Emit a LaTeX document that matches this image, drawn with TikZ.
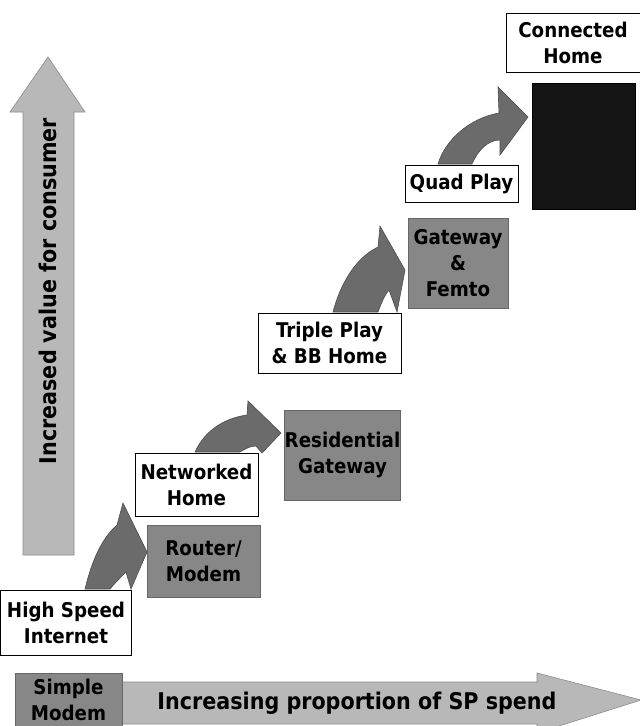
\documentclass[tikz,border=0pt]{standalone}
\usepackage{fontspec}
\setmainfont{DejaVu Sans Condensed}
\begin{document}
\begin{tikzpicture}[x=1pt,y=-1pt,
  lbl/.style={font=\bfseries\fontsize{20.3}{26}\selectfont, align=center, inner sep=0pt},
  axislbl/.style={font=\bfseries\fontsize{23}{27}\selectfont, inner sep=0pt},
  whitebox/.style={lbl, draw=black, line width=0.9pt, fill=white},
  greybox/.style={lbl, fill=black!47, draw=black!60, line width=0.6pt},
  darkbox/.style={fill=black!92, draw=black},
  bigarrow/.style={fill=black!28, draw=black!45, line width=0.6pt},
  stepcurve/.style={fill=black!58, draw=black!70, line width=0.6pt}]
\useasboundingbox (0,0) rectangle (640,726);
\clip (0,0) rectangle (640,726);

% axes
\draw[bigarrow] (23,555) -- (23,112) -- (10,112) -- (48,57) -- (85,112) -- (74,112) -- (74,555) -- cycle;
\node[axislbl, rotate=90] (yaxis) at (48,291) {Increased value for consumer};
\draw[bigarrow] (118,682) -- (537,682) -- (537,673) -- (641,700) -- (537,733) -- (537,724) -- (118,724) -- cycle;
\node[axislbl] (xaxis) at (357,703) {Increasing proportion of SP spend};

% service steps (white) and equipment (grey)
\node[greybox, minimum width=107pt, minimum height=54pt] (modem) at (68.5,700) {Simple\\Modem};
\node[whitebox, minimum width=131pt, minimum height=65pt] (hsi) at (66,622.5) {High Speed\\Internet};
\node[greybox, minimum width=113pt, minimum height=72pt] (router) at (203.5,561) {Router/\\Modem};
\node[whitebox, minimum width=123pt, minimum height=63pt] (net) at (196.5,484.5) {Networked\\Home};
\node[greybox, minimum width=115pt, minimum height=90pt] (rgw) at (342.5,455) {Residential\\Gateway};
\node[whitebox, minimum width=143pt, minimum height=60pt] (triple) at (329.5,343) {Triple Play\\\& BB Home};
\node[greybox, minimum width=100pt, minimum height=90pt] (femto) at (458,263) {Gateway\\\&\\Femto};
\node[whitebox, minimum width=113pt, minimum height=37pt] (quad) at (461.5,183.5) {Quad Play};
\node[darkbox, minimum width=103pt, minimum height=126pt] (home) at (583.5,146) {};
\node[whitebox, minimum width=134pt, minimum height=59pt] (conn) at (573,42.5) {Connected\\Home};

% curved step arrows
\draw[stepcurve] (85,589) .. controls (92,560) and (102,538) .. (117,525) -- (123,503) -- (147,552)
  -- (131,589) -- (126,572) .. controls (120,578) and (114,584) .. (110,589) -- cycle;
\draw[stepcurve] (195,452) .. controls (205,430) and (225,418) .. (247,415) -- (248,401) -- (281,433)
  -- (262,453) -- (256,446) .. controls (250,446) and (245,449) .. (240,452) -- cycle;
\draw[stepcurve] (333,312) .. controls (340,285) and (355,258) .. (378,247) -- (380,226) -- (405,270)
  -- (397,312) -- (389,290) .. controls (384,296) and (381,304) .. (378,312) -- cycle;
\draw[stepcurve] (438,164) .. controls (445,140) and (470,118) .. (499,113) -- (498,87) -- (528,117)
  -- (500,155) -- (500,140) .. controls (488,140) and (478,150) .. (472,164) -- cycle;
\end{tikzpicture}
\end{document}
